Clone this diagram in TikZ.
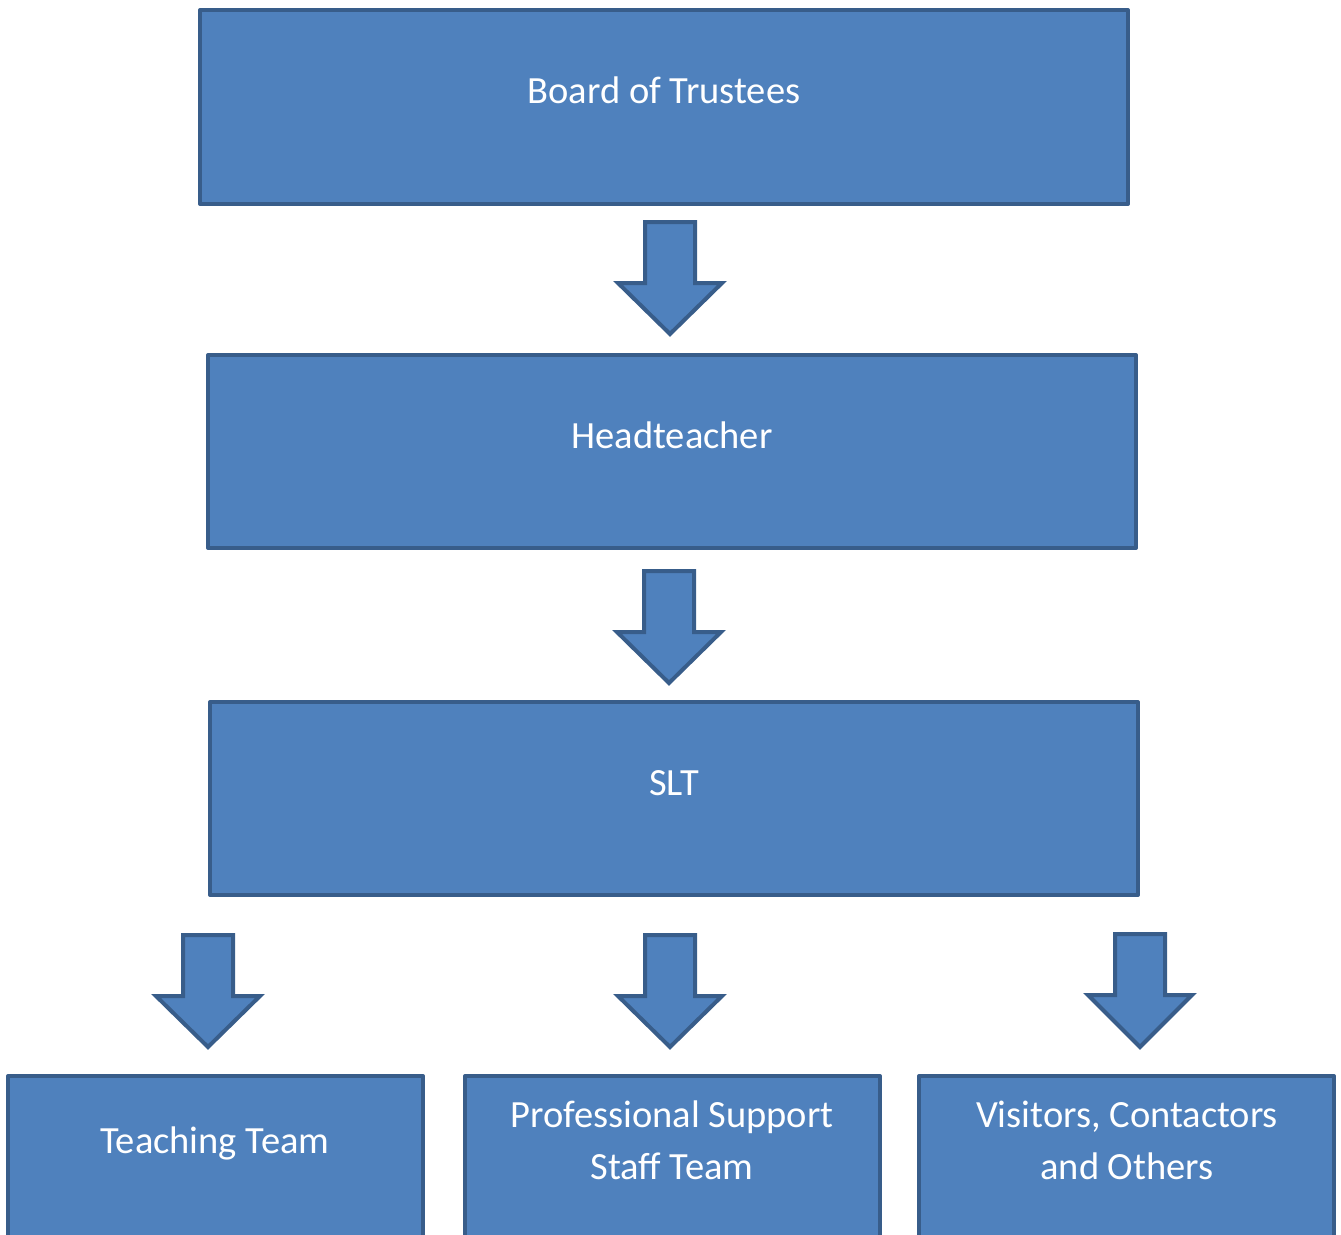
\documentclass[tikz,border=0pt]{standalone}
\usepackage{fontspec}
\setmainfont{Carlito}
\definecolor{boxfill}{HTML}{4F81BD}
\definecolor{boxline}{HTML}{385D8A}
\tikzset{
  orgbox/.style={fill=boxfill,draw=boxline,line width=4pt,line join=round},
  blockarrow/.style={fill=boxfill,draw=boxline,line width=4pt,line join=miter},
  lbl/.style={text=white,font=\fontsize{38.5}{52}\selectfont,align=center,anchor=base,inner sep=0pt}
}
\newcommand{\dnarrow}[3]{% cx, top, tip
  \path[blockarrow] (#1-25,#2+2) -- (#1+25,#2+2) -- (#1+25,#2+63) -- (#1+52,#2+63)
    -- (#1,#3-1) -- (#1-52,#2+63) -- (#1-25,#2+63) -- cycle;}
\begin{document}
\begin{tikzpicture}[x=1pt,y=-1pt]
\useasboundingbox (0,0) rectangle (1341,1234);
\clip (0,0) rectangle (1341,1234);
% boxes
\draw[orgbox] (200,10) rectangle (1128,204);
\draw[orgbox] (208,355) rectangle (1136,548);
\draw[orgbox] (210,702) rectangle (1138,895);
\draw[orgbox] (8,1076) rectangle (423,1260);
\draw[orgbox] (465,1076) rectangle (880,1260);
\draw[orgbox] (919,1076) rectangle (1334,1260);
% labels
\node[lbl] (bot) at (664,103) {Board of Trustees};
\node[lbl] (ht) at (672,448) {Headteacher};
\node[lbl] (slt) at (674,795) {SLT};
\node[lbl] (tt) at (215,1153) {Teaching Team};
\node[lbl] (ps) at (672,1179) {Professional Support\\Staff Team};
\node[lbl] (vc) at (1127,1179) {Visitors, Contactors\\and Others};
% arrows
\dnarrow{670}{220}{335}
\dnarrow{669}{569}{684}
\dnarrow{208}{933}{1048}
\dnarrow{670}{933}{1048}
\dnarrow{1140}{932}{1048}
\end{tikzpicture}
\end{document}
